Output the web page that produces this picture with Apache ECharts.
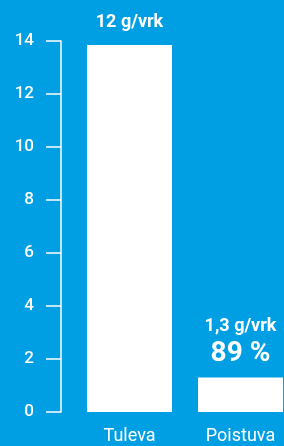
<!DOCTYPE html>
<html>
<head>
<meta charset="utf-8">
<script src="https://cdn.jsdelivr.net/npm/echarts@6/dist/echarts.min.js"></script>
<style>
    html, body { margin: 0; padding: 0; background: #009fe3; overflow: hidden; }
    #chart { width: 296px; height: 446px; }
</style>
</head>
<body>
<div id="chart"></div>
<script>
    // luokat ja arvot
    const categories = ['Tuleva', 'Poistuva'];
    const values = [13.85, 1.3];
    const amountLabels = ['12 g/vrk', '1,3 g/vrk'];
    const shareLabels = ['', '89 %'];
    const yTicks = [0, 2, 4, 6, 8, 10, 12, 14];

    const font = 'Roboto, "Noto Sans", sans-serif';

    var myChart = echarts.init(document.getElementById('chart'));
    var option = {
        backgroundColor: '#009fe3',
        animation: false,
        grid: {
            left: 74,
            top: 41,
            right: 0,
            bottom: 34
        },
        xAxis: {
            type: 'category',
            data: categories,
            axisLine: { show: false },
            axisTick: { show: false },
            axisLabel: {
                color: '#fff',
                fontFamily: font,
                fontSize: 18,
                margin: 15
            }
        },
        yAxis: {
            type: 'value',
            min: yTicks[0],
            max: yTicks[yTicks.length - 1],
            interval: 2,
            offset: 13,
            splitLine: { show: false },
            axisLine: { show: true, lineStyle: { color: '#fff', width: 1.5 } },
            axisTick: { show: true, length: 15, lineStyle: { color: '#fff', width: 1.5 } },
            axisLabel: {
                color: '#fff',
                fontFamily: font,
                fontSize: 17,
                fontWeight: 500,
                margin: 27
            }
        },
        series: [
            {
                type: 'bar',
                barWidth: 85,
                itemStyle: { color: '#fff' },
                data: values.map((v, i) => ({
                    value: v,
                    label: {
                        show: true,
                        position: 'top',
                        distance: i === 0 ? 10 : 9,
                        formatter: shareLabels[i]
                            ? '{a|' + amountLabels[i] + '}\n{b|' + shareLabels[i] + '}'
                            : '{a|' + amountLabels[i] + '}',
                        rich: {
                            a: { color: '#fff', fontFamily: font, fontWeight: 'bold', fontSize: 18, lineHeight: 24 },
                            b: { color: '#fff', fontFamily: font, fontWeight: 'bold', fontSize: 28, lineHeight: 30 }
                        }
                    }
                }))
            }
        ]
    };
    myChart.setOption(option);
</script>
</body>
</html>
